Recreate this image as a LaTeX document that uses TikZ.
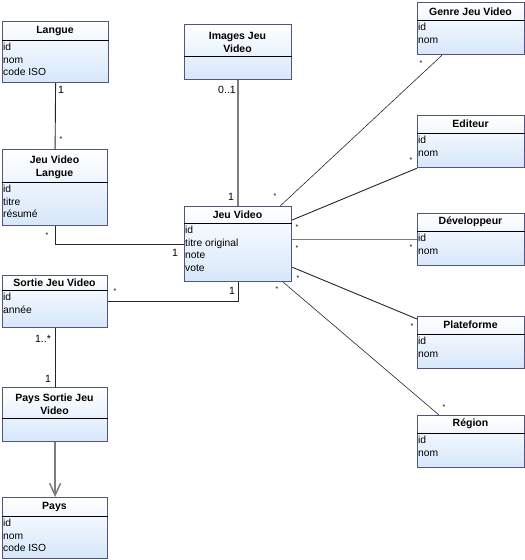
\documentclass[tikz,border=0pt]{standalone}
\usepackage{fontspec}
\setmainfont{Liberation Sans}
\usetikzlibrary{arrows.meta, positioning}

\definecolor{classborder}{RGB}{84,84,128}
\definecolor{classfill}{RGB}{214,231,250}
\definecolor{linkgrey}{RGB}{125,125,125}

\tikzset{
	classbox/.style={draw=classborder, line width=1.2pt, top color=white, bottom color=classfill, anchor=north west, inner sep=0pt},
	classtitle/.style={font=\fontsize{10.5}{13}\selectfont\bfseries, align=center, inner sep=0pt},
	classattr/.style={font=\fontsize{10.3}{12.5}\selectfont, align=left, anchor=north west, inner sep=1pt},
	headline/.style={draw=black, line width=1pt},
	mult/.style={font=\fontsize{10.5}{12}\selectfont, inner sep=0pt},
	star/.style={font=\fontsize{7}{8}\selectfont, inner sep=0pt},
	link/.style={draw=black!85, line width=0.9pt},
	greylink/.style={draw=linkgrey, line width=1.5pt}
}

\begin{document}
\begin{tikzpicture}[x=1pt,y=-1pt]
	\useasboundingbox (0,0) rectangle (525,560);

	% classes, left column
	\node[classbox, minimum width=106pt, minimum height=61pt] (langue) at (2,21) {};
	\draw[headline] (langue.west |- 0,40) -- (langue.east |- 0,40);
	\node[classtitle] (langueT) at (55,31) {Langue};
	\node[classattr] (langueA) at (2,42) {id\\nom\\code ISO};

	\node[classbox, minimum width=105pt, minimum height=76pt] (jvlangue) at (2,149) {};
	\draw[headline] (jvlangue.west |- 0,182) -- (jvlangue.east |- 0,182);
	\node[classtitle] (jvlangueT) at (54.5,167.5) {Jeu Video\\Langue};
	\node[classattr] (jvlangueA) at (2,184) {id\\titre\\résumé};

	\node[classbox, minimum width=105pt, minimum height=52pt] (sortie) at (2,275) {};
	\draw[headline] (sortie.west |- 0,290) -- (sortie.east |- 0,290);
	\node[classtitle] (sortieT) at (54.5,283) {Sortie Jeu Video};
	\node[classattr] (sortieA) at (2,292) {id\\année};

	\node[classbox, minimum width=105pt, minimum height=54pt] (payssortie) at (2,387) {};
	\draw[headline] (payssortie.west |- 0,418) -- (payssortie.east |- 0,418);
	\node[classtitle] (payssortieT) at (54.5,404.5) {Pays Sortie Jeu\\Video};

	\node[classbox, minimum width=105pt, minimum height=61pt] (pays) at (2,497) {};
	\draw[headline] (pays.west |- 0,516) -- (pays.east |- 0,516);
	\node[classtitle] (paysT) at (54.5,507) {Pays};
	\node[classattr] (paysA) at (2,518) {id\\nom\\code ISO};

	% classes, middle
	\node[classbox, minimum width=107pt, minimum height=55pt] (images) at (184,24) {};
	\draw[headline] (images.west |- 0,56) -- (images.east |- 0,56);
	\node[classtitle] (imagesT) at (237.5,42.5) {Images Jeu\\Video};

	\node[classbox, minimum width=107pt, minimum height=75pt] (jeuvideo) at (184,206) {};
	\draw[headline] (jeuvideo.west |- 0,223) -- (jeuvideo.east |- 0,223);
	\node[classtitle] (jeuvideoT) at (237.5,215) {Jeu Video};
	\node[classattr] (jeuvideoA) at (184,225) {id\\titre original\\note\\vote};

	% classes, right column
	\node[classbox, minimum width=107pt, minimum height=52pt] (genre) at (417,2) {};
	\draw[headline] (genre.west |- 0,20) -- (genre.east |- 0,20);
	\node[classtitle] (genreT) at (470.5,12) {Genre Jeu Video};
	\node[classattr] (genreA) at (417,22) {id\\nom};

	\node[classbox, minimum width=107pt, minimum height=52pt] (editeur) at (417,115) {};
	\draw[headline] (editeur.west |- 0,133) -- (editeur.east |- 0,133);
	\node[classtitle] (editeurT) at (470.5,124) {Editeur};
	\node[classattr] (editeurA) at (417,135) {id\\nom};

	\node[classbox, minimum width=107pt, minimum height=52pt] (dev) at (417,213) {};
	\draw[headline] (dev.west |- 0,231) -- (dev.east |- 0,231);
	\node[classtitle] (devT) at (470.5,222) {Développeur};
	\node[classattr] (devA) at (417,233) {id\\nom};

	\node[classbox, minimum width=107pt, minimum height=52pt] (plateforme) at (417,316) {};
	\draw[headline] (plateforme.west |- 0,334) -- (plateforme.east |- 0,334);
	\node[classtitle] (plateformeT) at (470.5,325) {Plateforme};
	\node[classattr] (plateformeA) at (417,336) {id\\nom};

	\node[classbox, minimum width=107pt, minimum height=52pt] (region) at (417,415) {};
	\draw[headline] (region.west |- 0,433) -- (region.east |- 0,433);
	\node[classtitle] (regionT) at (470.5,424) {Région};
	\node[classattr] (regionA) at (417,435) {id\\nom};

	% associations
	\draw[link] (langue.south) -- (jvlangue.north);
	\draw[link] (jvlangue.south) |- (jeuvideo.west);
	\draw[greylink] (images.south) -- (jeuvideo.north);
	\draw[link] (sortie.east) -| (jeuvideo.south);
	\draw[link] (sortie.south) -- (payssortie.north);
	\draw[greylink, -{Straight Barb[length=12pt,width=11pt]}] (payssortie.south) -- (pays.north);
	\draw[link, line width=0.6pt] ([xshift=-12pt]jeuvideo.north east) -- ([xshift=25pt]genre.south west);
	\draw[link] ([yshift=-14pt]jeuvideo.north east) -- (editeur.south west);
	\draw[greylink] (dev.west) -- (dev.west -| jeuvideo.east);
	\draw[link] ([yshift=15pt]jeuvideo.south east) -- ([yshift=-3pt]plateforme.north west);
	\draw[link, line width=0.6pt] ([xshift=-9pt]jeuvideo.south east) -- ([xshift=22pt]region.north west);

	% multiplicities
	\node[mult] (m1) at (61,90) {1};
	\node[star] (m2) at (61,139) {*};
	\node[star] (m3) at (47,235) {*};
	\node[mult] (m4) at (175,253) {1};
	\node[mult] (m5) at (227,90) {0..1};
	\node[mult] (m6) at (231,197) {1};
	\node[star] (m7) at (115,291) {*};
	\node[mult] (m8) at (232,291) {1};
	\node[mult] (m9) at (43,339) {1..*};
	\node[mult] (m10) at (48,379) {1};
	\node[star] (m11) at (421,63) {*};
	\node[star] (m12) at (275,196) {*};
	\node[star] (m13) at (411,160) {*};
	\node[star] (m14) at (297,227) {*};
	\node[star] (m15) at (411,247) {*};
	\node[star] (m16) at (297,248) {*};
	\node[star] (m17) at (412,326) {*};
	\node[star] (m18) at (298,278) {*};
	\node[star] (m19) at (444,407) {*};
	\node[star] (m20) at (277,289) {*};
\end{tikzpicture}
\end{document}
